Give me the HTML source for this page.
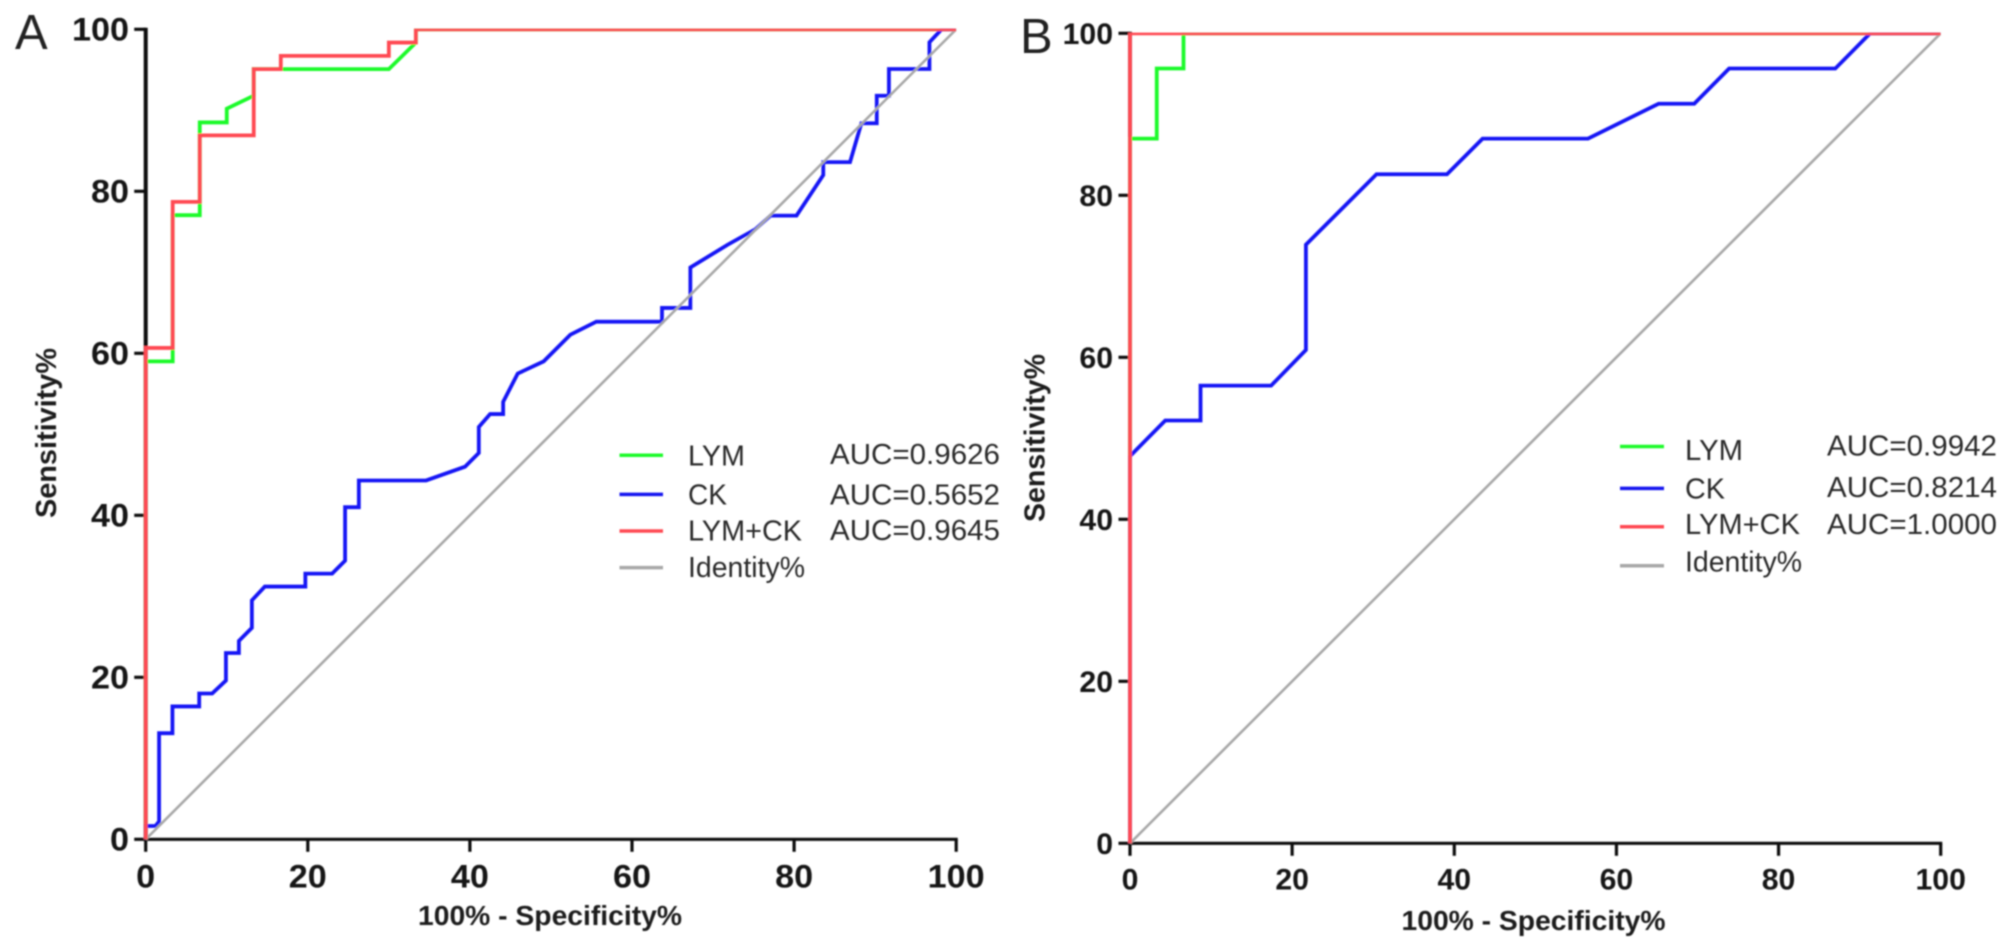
<!DOCTYPE html>
<html lang="en">
<head>
<meta charset="utf-8">
<title>ROC curves for LYM, CK and LYM+CK</title>
<style>
  html, body { margin: 0; padding: 0; background: #fff; }
  svg { display: block; }
  text { font-family: "Liberation Sans", Arial, sans-serif; }
  .tick { font-weight: bold; fill: #141414; }
  .title { font-weight: bold; fill: #1c1c1c; }
  .leg { font-size: 28.5px; fill: #2b2b2b; }
  .letter { font-size: 49px; fill: #222; }
</style>
</head>
<body>
<svg id="chart" xmlns="http://www.w3.org/2000/svg" width="2008" height="952" viewBox="0 0 2008 952">
  <defs>
    <filter id="soft" filterUnits="userSpaceOnUse" x="0" y="0" width="2008" height="952">
      <feGaussianBlur stdDeviation="0.7"/>
    </filter>
    <clipPath id="clip-a"><rect id="clip-a-rect" x="0" y="0" width="2008" height="952"/></clipPath>
    <clipPath id="clip-b"><rect id="clip-b-rect" x="0" y="0" width="2008" height="952"/></clipPath>
  </defs>
  <rect x="0" y="0" width="2008" height="952" fill="#fff"/>
  <g id="root" filter="url(#soft)">
    <g id="panel-a">
      <text class="letter" x="15" y="49">A</text>
      <text class="title" font-size="29" transform="translate(56,518) rotate(-90)" textLength="170" lengthAdjust="spacingAndGlyphs">Sensitivity%</text>
      <text class="title" font-size="28" x="418" y="925" textLength="264" lengthAdjust="spacingAndGlyphs">100% - Specificity%</text>
      <g id="legend-a">
        <line x1="619.5" x2="663" y1="455.3" y2="455.3" stroke="#1dfa2c" stroke-width="3.5"/>
        <line x1="619.5" x2="663" y1="494.4" y2="494.4" stroke="#1414f0" stroke-width="3.5"/>
        <line x1="619.5" x2="663" y1="531" y2="531" stroke="#ff4a52" stroke-width="3.5"/>
        <line x1="619.5" x2="663" y1="567.6" y2="567.6" stroke="#a8a8a8" stroke-width="3.5"/>
        <text class="leg" x="688" y="465.5" textLength="57" lengthAdjust="spacingAndGlyphs">LYM</text>
        <text class="leg" x="688" y="504.6" textLength="39" lengthAdjust="spacingAndGlyphs">CK</text>
        <text class="leg" x="688" y="540.5" textLength="114" lengthAdjust="spacingAndGlyphs">LYM+CK</text>
        <text class="leg" x="688" y="576.8" textLength="117" lengthAdjust="spacingAndGlyphs">Identity%</text>
        <text class="leg" x="830" y="464" textLength="170" lengthAdjust="spacingAndGlyphs">AUC=0.9626</text>
        <text class="leg" x="830" y="504.6" textLength="170" lengthAdjust="spacingAndGlyphs">AUC=0.5652</text>
        <text class="leg" x="830" y="540" textLength="170" lengthAdjust="spacingAndGlyphs">AUC=0.9645</text>
      </g>
    </g>
    <g id="panel-b">
      <text class="letter" x="1020" y="53">B</text>
      <text class="title" font-size="29" transform="translate(1044.5,522) rotate(-90)" textLength="168" lengthAdjust="spacingAndGlyphs">Sensitivity%</text>
      <text class="title" font-size="28" x="1401.5" y="930" textLength="264" lengthAdjust="spacingAndGlyphs">100% - Specificity%</text>
      <g id="legend-b">
        <line x1="1620" x2="1664" y1="446.5" y2="446.5" stroke="#1dfa2c" stroke-width="3.5"/>
        <line x1="1620" x2="1664" y1="488.4" y2="488.4" stroke="#1414f0" stroke-width="3.5"/>
        <line x1="1620" x2="1664" y1="526.8" y2="526.8" stroke="#ff4a52" stroke-width="3.5"/>
        <line x1="1620" x2="1664" y1="565.8" y2="565.8" stroke="#a8a8a8" stroke-width="3.5"/>
        <text class="leg" x="1685" y="459.9" textLength="58" lengthAdjust="spacingAndGlyphs">LYM</text>
        <text class="leg" x="1685" y="498.6" textLength="40" lengthAdjust="spacingAndGlyphs">CK</text>
        <text class="leg" x="1685" y="533.8" textLength="115" lengthAdjust="spacingAndGlyphs">LYM+CK</text>
        <text class="leg" x="1685" y="571.5" textLength="117" lengthAdjust="spacingAndGlyphs">Identity%</text>
        <text class="leg" x="1827" y="455.6" textLength="170" lengthAdjust="spacingAndGlyphs">AUC=0.9942</text>
        <text class="leg" x="1827" y="496.8" textLength="170" lengthAdjust="spacingAndGlyphs">AUC=0.8214</text>
        <text class="leg" x="1827" y="533.8" textLength="170" lengthAdjust="spacingAndGlyphs">AUC=1.0000</text>
      </g>
    </g>
  </g>
</svg>
<script>
// Tick values shared by both panels
var xTickValues = [0, 20, 40, 60, 80, 100];
var yTickValues = [0, 20, 40, 60, 80, 100];

// Identity line
var identityX = [0, 100];
var identityY = [0, 100];

// Panel A: LYM
var aLymX = [0, 0, 3.33, 3.33, 6.67, 6.67, 10, 10, 13.33, 13.33, 30, 33.33, 33.33, 100];
var aLymY = [0, 59, 59, 77.05, 77.05, 88.5, 88.5, 90.2, 91.8, 95.08, 95.08, 98.36, 100, 100];

// Panel A: CK
var aCkX = [0, 0, 1.2, 1.65, 1.65, 3.3, 3.3, 6.6, 6.6, 8.2, 9.9, 9.9, 11.5, 11.5, 13.1, 13.1, 14.7, 19.7, 19.7, 23, 24.6, 24.6, 26.3, 26.3, 34.6, 39.4, 41.1, 41.1, 42.5, 44.1, 44.1, 45.9, 49.1, 52.4, 55.6, 63.7, 63.7, 67.2, 67.2, 71.8, 75.2, 77.1, 80.3, 83.6, 83.6, 86.9, 88.3, 90.2, 90.2, 91.7, 91.7, 96.7, 96.7, 98.2, 100];
var aCkY = [0, 1.64, 1.64, 2.2, 13.1, 13.1, 16.4, 16.4, 18, 18, 19.6, 23, 23, 24.5, 26.1, 29.5, 31.2, 31.2, 32.8, 32.8, 34.4, 41, 41, 44.3, 44.3, 46, 47.7, 50.9, 52.5, 52.5, 54, 57.5, 59, 62.3, 63.9, 63.9, 65.6, 65.6, 70.6, 73.4, 75.3, 77, 77, 82, 83.6, 83.6, 88.4, 88.4, 91.8, 91.8, 95.1, 95.1, 98.4, 100, 100];

// Panel A: LYM+CK
var aComboX = [0, 0, 3.33, 3.33, 6.67, 6.67, 13.33, 13.33, 16.67, 16.67, 30, 30, 33.33, 33.33, 100];
var aComboY = [0, 60.66, 60.66, 78.69, 78.69, 86.9, 86.9, 95.08, 95.08, 96.72, 96.72, 98.36, 98.36, 100, 100];

// Panel B: LYM
var bLymX = [0, 0, 3.3, 3.3, 6.6, 6.6, 100];
var bLymY = [0, 87, 87, 95.65, 95.65, 100, 100];

// Panel B: CK
var bCkX = [0, 0, 4.35, 8.7, 8.7, 17.4, 21.7, 21.7, 30.4, 39.1, 43.5, 56.5, 65.2, 69.6, 73.9, 87, 91.3, 100];
var bCkY = [0, 47.8, 52.2, 52.2, 56.5, 56.5, 60.9, 73.9, 82.6, 82.6, 87, 87, 91.3, 91.3, 95.65, 95.65, 100, 100];

// Panel B: LYM+CK
var bComboX = [0, 0, 100];
var bComboY = [0, 100, 100];

var NS = 'http://www.w3.org/2000/svg';

function makeScale(d0, d1, r0, r1) {
  return function (v) { return r0 + (v - d0) * (r1 - r0) / (d1 - d0); };
}

function drawAxes(parent, key, sx, sy, opts) {
  var xMin = xTickValues[0], xMax = xTickValues[xTickValues.length - 1];
  var yMin = yTickValues[0], yMax = yTickValues[yTickValues.length - 1];

  var axisY = document.createElementNS(NS, 'line');
  
  
  axisY.setAttribute('x1', sx(xMin));
  axisY.setAttribute('x2', sx(xMin));
  axisY.setAttribute('y1', sy(yMin) + 1.5);
  axisY.setAttribute('y2', sy(yMax) - 1.5);
  axisY.setAttribute('stroke', '#111');
  axisY.setAttribute('stroke-width', 4);
  parent.appendChild(axisY);

  var axisX = document.createElementNS(NS, 'line');
  
  
  axisX.setAttribute('x1', sx(xMin) - 1.5);
  axisX.setAttribute('x2', sx(xMax) + 1.5);
  axisX.setAttribute('y1', sy(yMin));
  axisX.setAttribute('y2', sy(yMin));
  axisX.setAttribute('stroke', '#111');
  axisX.setAttribute('stroke-width', 3.2);
  parent.appendChild(axisX);

  yTickValues.forEach(function (v) {
    var t = document.createElementNS(NS, 'line');
    
    
    t.setAttribute('x1', sx(xMin) - 11.5);
    t.setAttribute('x2', sx(xMin));
    t.setAttribute('y1', sy(v));
    t.setAttribute('y2', sy(v));
    t.setAttribute('stroke', '#111');
    t.setAttribute('stroke-width', 3.2);
    parent.appendChild(t);

    var s = String(v);
    var lab = document.createElementNS(NS, 'text');
    
    
    lab.setAttribute('class', 'tick');
    lab.setAttribute('font-size', opts.fontSize);
    lab.setAttribute('text-anchor', 'end');
    lab.setAttribute('x', opts.yLabelRight);
    lab.setAttribute('y', sy(v) + opts.yLabelDy);
    lab.setAttribute('textLength', s.length * opts.digitWidth);
    lab.setAttribute('lengthAdjust', 'spacingAndGlyphs');
    lab.textContent = s;
    parent.appendChild(lab);
  });

  xTickValues.forEach(function (v) {
    var t = document.createElementNS(NS, 'line');
    
    
    t.setAttribute('x1', sx(v));
    t.setAttribute('x2', sx(v));
    t.setAttribute('y1', sy(yMin));
    t.setAttribute('y2', sy(yMin) + 12.5);
    t.setAttribute('stroke', '#111');
    t.setAttribute('stroke-width', 3.2);
    parent.appendChild(t);

    var s = String(v);
    var lab = document.createElementNS(NS, 'text');
    
    
    lab.setAttribute('class', 'tick');
    lab.setAttribute('font-size', opts.fontSize);
    lab.setAttribute('text-anchor', 'middle');
    lab.setAttribute('x', sx(v));
    lab.setAttribute('y', opts.xLabelBaseline);
    lab.setAttribute('textLength', s.length * opts.digitWidth);
    lab.setAttribute('lengthAdjust', 'spacingAndGlyphs');
    lab.textContent = s;
    parent.appendChild(lab);
  });
}

function drawCurve(parent, name, xs, ys, sx, sy, color, width) {
  var pts = xs.map(function (x, i) { return sx(x).toFixed(2) + ',' + sy(ys[i]).toFixed(2); }).join(' ');
  var p = document.createElementNS(NS, 'polyline');
  
  
  p.setAttribute('points', pts);
  p.setAttribute('fill', 'none');
  p.setAttribute('stroke', color);
  p.setAttribute('stroke-width', width);
  p.setAttribute('stroke-linejoin', 'miter');
  p.setAttribute('stroke-linecap', 'butt');
  parent.appendChild(p);
}

function drawPanel(key, panelEl, clipId, clipRectId, sx, sy, opts, series) {
  drawAxes(panelEl, key, sx, sy, opts);

  var clipRect = document.getElementById(clipRectId);
  clipRect.setAttribute('x', sx(0) - 4);
  clipRect.setAttribute('y', sy(100) - 0.7);
  clipRect.setAttribute('width', sx(100) - sx(0) + 4);
  clipRect.setAttribute('height', sy(0) - sy(100) + 2);

  var g = document.createElementNS(NS, 'g');
  
  
  g.setAttribute('clip-path', 'url(#' + clipId + ')');
  panelEl.appendChild(g);

  series.forEach(function (s) {
    drawCurve(g, key + '-' + s.name, s.x, s.y, sx, sy, s.color, s.width);
  });
}

drawPanel('panel-a', document.getElementById('panel-a'), 'clip-a', 'clip-a-rect',
  makeScale(0, 100, 145.7, 956.2),
  makeScale(0, 100, 839.3, 29.3),
  { fontSize: 32, digitWidth: 19, yLabelRight: 129, yLabelDy: 11.2, xLabelBaseline: 887.5 },
  [
    { name: 'lym-curve', x: aLymX, y: aLymY, color: '#1dfa2c', width: 3.8 },
    { name: 'ck-curve', x: aCkX, y: aCkY, color: '#1212f5', width: 3.8 },
    { name: 'identity-line', x: identityX, y: identityY, color: '#a8a8a8', width: 2.6 },
    { name: 'combined-curve', x: aComboX, y: aComboY, color: '#ff4a52', width: 3.8 }
  ]);

drawPanel('panel-b', document.getElementById('panel-b'), 'clip-b', 'clip-b-rect',
  makeScale(0, 100, 1130, 1940.7),
  makeScale(0, 100, 843.3, 33.3),
  { fontSize: 30, digitWidth: 16.8, yLabelRight: 1113, yLabelDy: 10.6, xLabelBaseline: 889.5 },
  [
    { name: 'lym-curve', x: bLymX, y: bLymY, color: '#1dfa2c', width: 3.8 },
    { name: 'ck-curve', x: bCkX, y: bCkY, color: '#1212f5', width: 3.8 },
    { name: 'identity-line', x: identityX, y: identityY, color: '#a8a8a8', width: 2.6 },
    { name: 'combined-curve', x: bComboX, y: bComboY, color: '#ff4a52', width: 3.8 }
  ]);
</script>
</body>
</html>
